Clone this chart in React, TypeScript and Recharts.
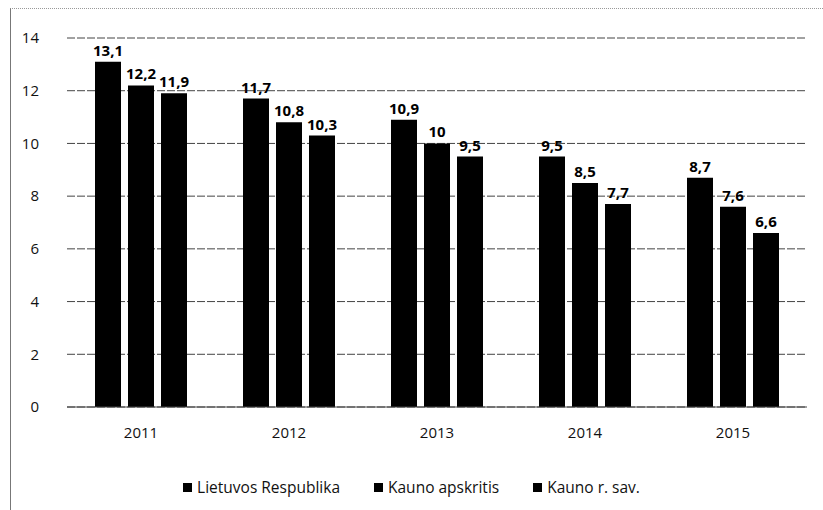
import { Bar, BarChart, CartesianGrid, LabelList, Legend, XAxis, YAxis } from "recharts";

const years = ["2011", "2012", "2013", "2014", "2015"];
const lietuvos = [13.1, 11.7, 10.9, 9.5, 8.7];
const kaunoApskritis = [12.2, 10.8, 10, 8.5, 7.6];
const kaunoRSav = [11.9, 10.3, 9.5, 7.7, 6.6];
const yTicks = [0, 2, 4, 6, 8, 10, 12, 14];

const seriesNames = ["Lietuvos Respublika", "Kauno apskritis", "Kauno r. sav."];

const data = years.map((y, i) => ({
  year: y,
  lr: lietuvos[i],
  ka: kaunoApskritis[i],
  kr: kaunoRSav[i],
}));

const font = "'Open Sans', 'Liberation Sans', sans-serif";
const fmt = (v: any) => String(v).replace(".", ",");
const labelStyle = { fill: "#000", fontSize: 15, fontWeight: 700, fontFamily: font };

function LegendBox() {
  return (
    <div style={{ display: "flex", justifyContent: "center", gap: 34, fontFamily: font, fontSize: 15.5, color: "#111" }}>
      {seriesNames.map((n) => (
        <div key={n} style={{ display: "flex", alignItems: "center" }}>
          <span style={{ width: 9, height: 9, background: "#000", display: "inline-block", marginRight: 5 }} />
          {n}
        </div>
      ))}
    </div>
  );
}

export default function App() {
  return (
    <div style={{ position: "absolute", left: 0, top: 0, width: 823, height: 510, background: "#fff" }}>
      <div
        style={{
          position: "absolute",
          left: 10,
          top: 8,
          right: 0,
          bottom: 0,
          borderLeft: "1px solid #777",
          borderTop: "1px dotted #999",
        }}
      />
      <BarChart
        width={823}
        height={510}
        data={data}
        margin={{ top: 38, right: 16, left: 0, bottom: 41 }}
        barSize={26}
        barGap={7}
        barCategoryGap={28}
      >
        <CartesianGrid vertical={false} stroke="#444" strokeDasharray="8 2" />
        <XAxis
          dataKey="year"
          axisLine={{ stroke: "#444" }}
          tickLine={false}
          tick={{ fill: "#111", fontSize: 15, fontFamily: font }}
          tickMargin={14}
          height={40}
        />
        <YAxis
          domain={[0, 14]}
          ticks={yTicks}
          width={67}
          axisLine={false}
          tickLine={false}
          tick={{ fill: "#111", fontSize: 15, fontFamily: font }}
          tickMargin={22}
        />
        <Legend content={<LegendBox />} wrapperStyle={{ top: 476, left: 0, width: 823 }} />
        <Bar dataKey="lr" name={seriesNames[0]} fill="#000" isAnimationActive={false}>
          <LabelList dataKey="lr" position="top" offset={6} formatter={fmt} style={labelStyle} />
        </Bar>
        <Bar dataKey="ka" name={seriesNames[1]} fill="#000" isAnimationActive={false}>
          <LabelList dataKey="ka" position="top" offset={6} formatter={fmt} style={labelStyle} />
        </Bar>
        <Bar dataKey="kr" name={seriesNames[2]} fill="#000" isAnimationActive={false}>
          <LabelList dataKey="kr" position="top" offset={6} formatter={fmt} style={labelStyle} />
        </Bar>
      </BarChart>
    </div>
  );
}
